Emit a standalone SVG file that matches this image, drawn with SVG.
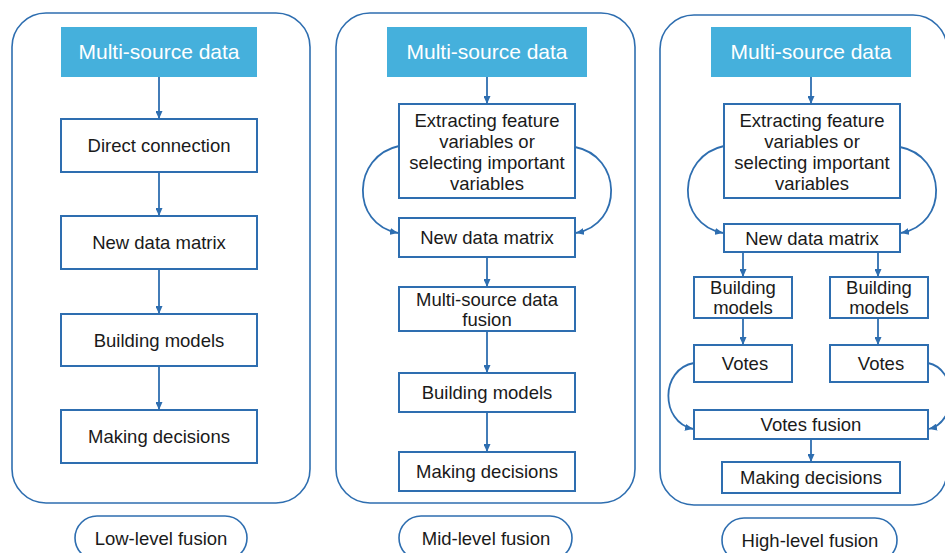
<svg xmlns="http://www.w3.org/2000/svg" width="945" height="553" viewBox="0 0 945 553">
<defs>
<marker id="ah" viewBox="0 0 8 7" refX="8" refY="3.5" markerWidth="8" markerHeight="7" markerUnits="userSpaceOnUse" orient="auto">
<path d="M0,0 L8,3.5 L0,7 z" fill="#2e6eb0"/>
</marker>
<style>
.panel{fill:none;stroke:#2e6eb0;stroke-width:1.6}
.box{fill:#fff;stroke:#2e6eb0;stroke-width:2}
.src{fill:#45b0dc;stroke:none}
.pill{fill:#fff;stroke:#2e6eb0;stroke-width:1.6}
.t{font-family:"Liberation Sans",Arial,sans-serif;font-size:18.5px;fill:#1a1a1a;text-anchor:middle}
.ts{font-family:"Liberation Sans",Arial,sans-serif;font-size:21px;fill:#fff;text-anchor:middle}
.c{fill:none;stroke:#2e6eb0;stroke-width:1.8;marker-end:url(#ah)}
</style>
</defs>
<rect width="945" height="553" fill="#fff"/>

<g id="panel-low">
<rect class="panel" x="12" y="13" width="298" height="490" rx="34"/>
</g>
<g id="panel-mid">
<rect class="panel" x="336" y="13" width="299" height="490" rx="34"/>
</g>
<g id="panel-high">
<rect class="panel" x="660" y="15" width="287" height="490" rx="34"/>
</g>

<!-- Low-level -->
<g id="low-src"><rect class="src" x="61" y="27" width="196" height="50"/><text class="ts" x="159" y="59">Multi-source data</text></g>
<g id="low-direct"><rect class="box" x="61" y="119" width="196" height="53"/><text class="t" x="159" y="152">Direct connection</text></g>
<g id="low-matrix"><rect class="box" x="61" y="216" width="196" height="53"/><text class="t" x="159" y="249">New data matrix</text></g>
<g id="low-build"><rect class="box" x="61" y="314" width="196" height="52"/><text class="t" x="159" y="347">Building models</text></g>
<g id="low-decide"><rect class="box" x="61" y="410" width="196" height="53"/><text class="t" x="159" y="443">Making decisions</text></g>
<g id="low-label"><rect class="pill" x="75" y="516" width="172" height="44" rx="22"/><text class="t" x="161" y="545">Low-level fusion</text></g>

<!-- Mid-level -->
<g id="mid-src"><rect class="src" x="387" y="27" width="200" height="50"/><text class="ts" x="487" y="59">Multi-source data</text></g>
<g id="mid-extract"><rect class="box" x="399" y="104" width="176" height="94"/>
<text class="t" x="487" y="127">Extracting feature</text>
<text class="t" x="487" y="148">variables or</text>
<text class="t" x="487" y="169">selecting important</text>
<text class="t" x="487" y="190">variables</text></g>
<g id="mid-matrix"><rect class="box" x="399" y="218" width="176" height="39"/><text class="t" x="487" y="244">New data matrix</text></g>
<g id="mid-fusion"><rect class="box" x="399" y="287" width="176" height="44"/>
<text class="t" x="487" y="306">Multi-source data</text>
<text class="t" x="487" y="326">fusion</text></g>
<g id="mid-build"><rect class="box" x="399" y="373" width="176" height="39"/><text class="t" x="487" y="399">Building models</text></g>
<g id="mid-decide"><rect class="box" x="399" y="452" width="176" height="39"/><text class="t" x="487" y="478">Making decisions</text></g>
<g id="mid-label"><rect class="pill" x="399" y="516" width="173" height="44" rx="22"/><text class="t" x="486" y="545">Mid-level fusion</text></g>

<!-- High-level -->
<g id="high-src"><rect class="src" x="711" y="27" width="200" height="50"/><text class="ts" x="811" y="59">Multi-source data</text></g>
<g id="high-extract"><rect class="box" x="724" y="104" width="176" height="94"/>
<text class="t" x="812" y="127">Extracting feature</text>
<text class="t" x="812" y="148">variables or</text>
<text class="t" x="812" y="169">selecting important</text>
<text class="t" x="812" y="190">variables</text></g>
<g id="high-matrix"><rect class="box" x="724" y="224" width="176" height="28"/><text class="t" x="812" y="245">New data matrix</text></g>
<g id="high-build1"><rect class="box" x="694" y="277" width="98" height="41"/>
<text class="t" x="743" y="294">Building</text><text class="t" x="743" y="314">models</text></g>
<g id="high-build2"><rect class="box" x="830" y="277" width="98" height="41"/>
<text class="t" x="879" y="294">Building</text><text class="t" x="879" y="314">models</text></g>
<g id="high-votes1"><rect class="box" x="694" y="345" width="98" height="37"/><text class="t" x="745" y="370">Votes</text></g>
<g id="high-votes2"><rect class="box" x="830" y="345" width="98" height="37"/><text class="t" x="881" y="370">Votes</text></g>
<g id="high-vfusion"><rect class="box" x="694" y="410" width="234" height="29"/><text class="t" x="811" y="431">Votes fusion</text></g>
<g id="high-decide"><rect class="box" x="722" y="462" width="178" height="31"/><text class="t" x="811" y="484">Making decisions</text></g>
<g id="high-label"><rect class="pill" x="722" y="518" width="175" height="44" rx="22"/><text class="t" x="810" y="547">High-level fusion</text></g>

<g id="connectors">
<line class="c" x1="159" y1="77" x2="159" y2="119"/>
<line class="c" x1="159" y1="172" x2="159" y2="216"/>
<line class="c" x1="159" y1="269" x2="159" y2="314"/>
<line class="c" x1="159" y1="366" x2="159" y2="410"/>

<line class="c" x1="487" y1="77" x2="487" y2="104"/>
<line class="c" x1="487" y1="257" x2="487" y2="287"/>
<line class="c" x1="487" y1="331" x2="487" y2="373"/>
<line class="c" x1="487" y1="412" x2="487" y2="452"/>
<path class="c" d="M399,146 C352,156 350,224 398,233"/>
<path class="c" d="M575,147 C622,156 624,224 576,233"/>

<line class="c" x1="811" y1="77" x2="811" y2="104"/>
<path class="c" d="M724,146 C677,156 675,224 723,233"/>
<path class="c" d="M900,147 C947,156 949,224 901,233"/>
<line class="c" x1="743" y1="252" x2="743" y2="277"/>
<line class="c" x1="878" y1="252" x2="878" y2="277"/>
<line class="c" x1="743" y1="318" x2="743" y2="345"/>
<line class="c" x1="878" y1="318" x2="878" y2="345"/>
<path class="c" d="M694,363 C660,369 660,422 693,429"/>
<path class="c" d="M928,363 C958,369 958,422 929,429"/>
<line class="c" x1="811" y1="439" x2="811" y2="462"/>
</g>
</svg>
